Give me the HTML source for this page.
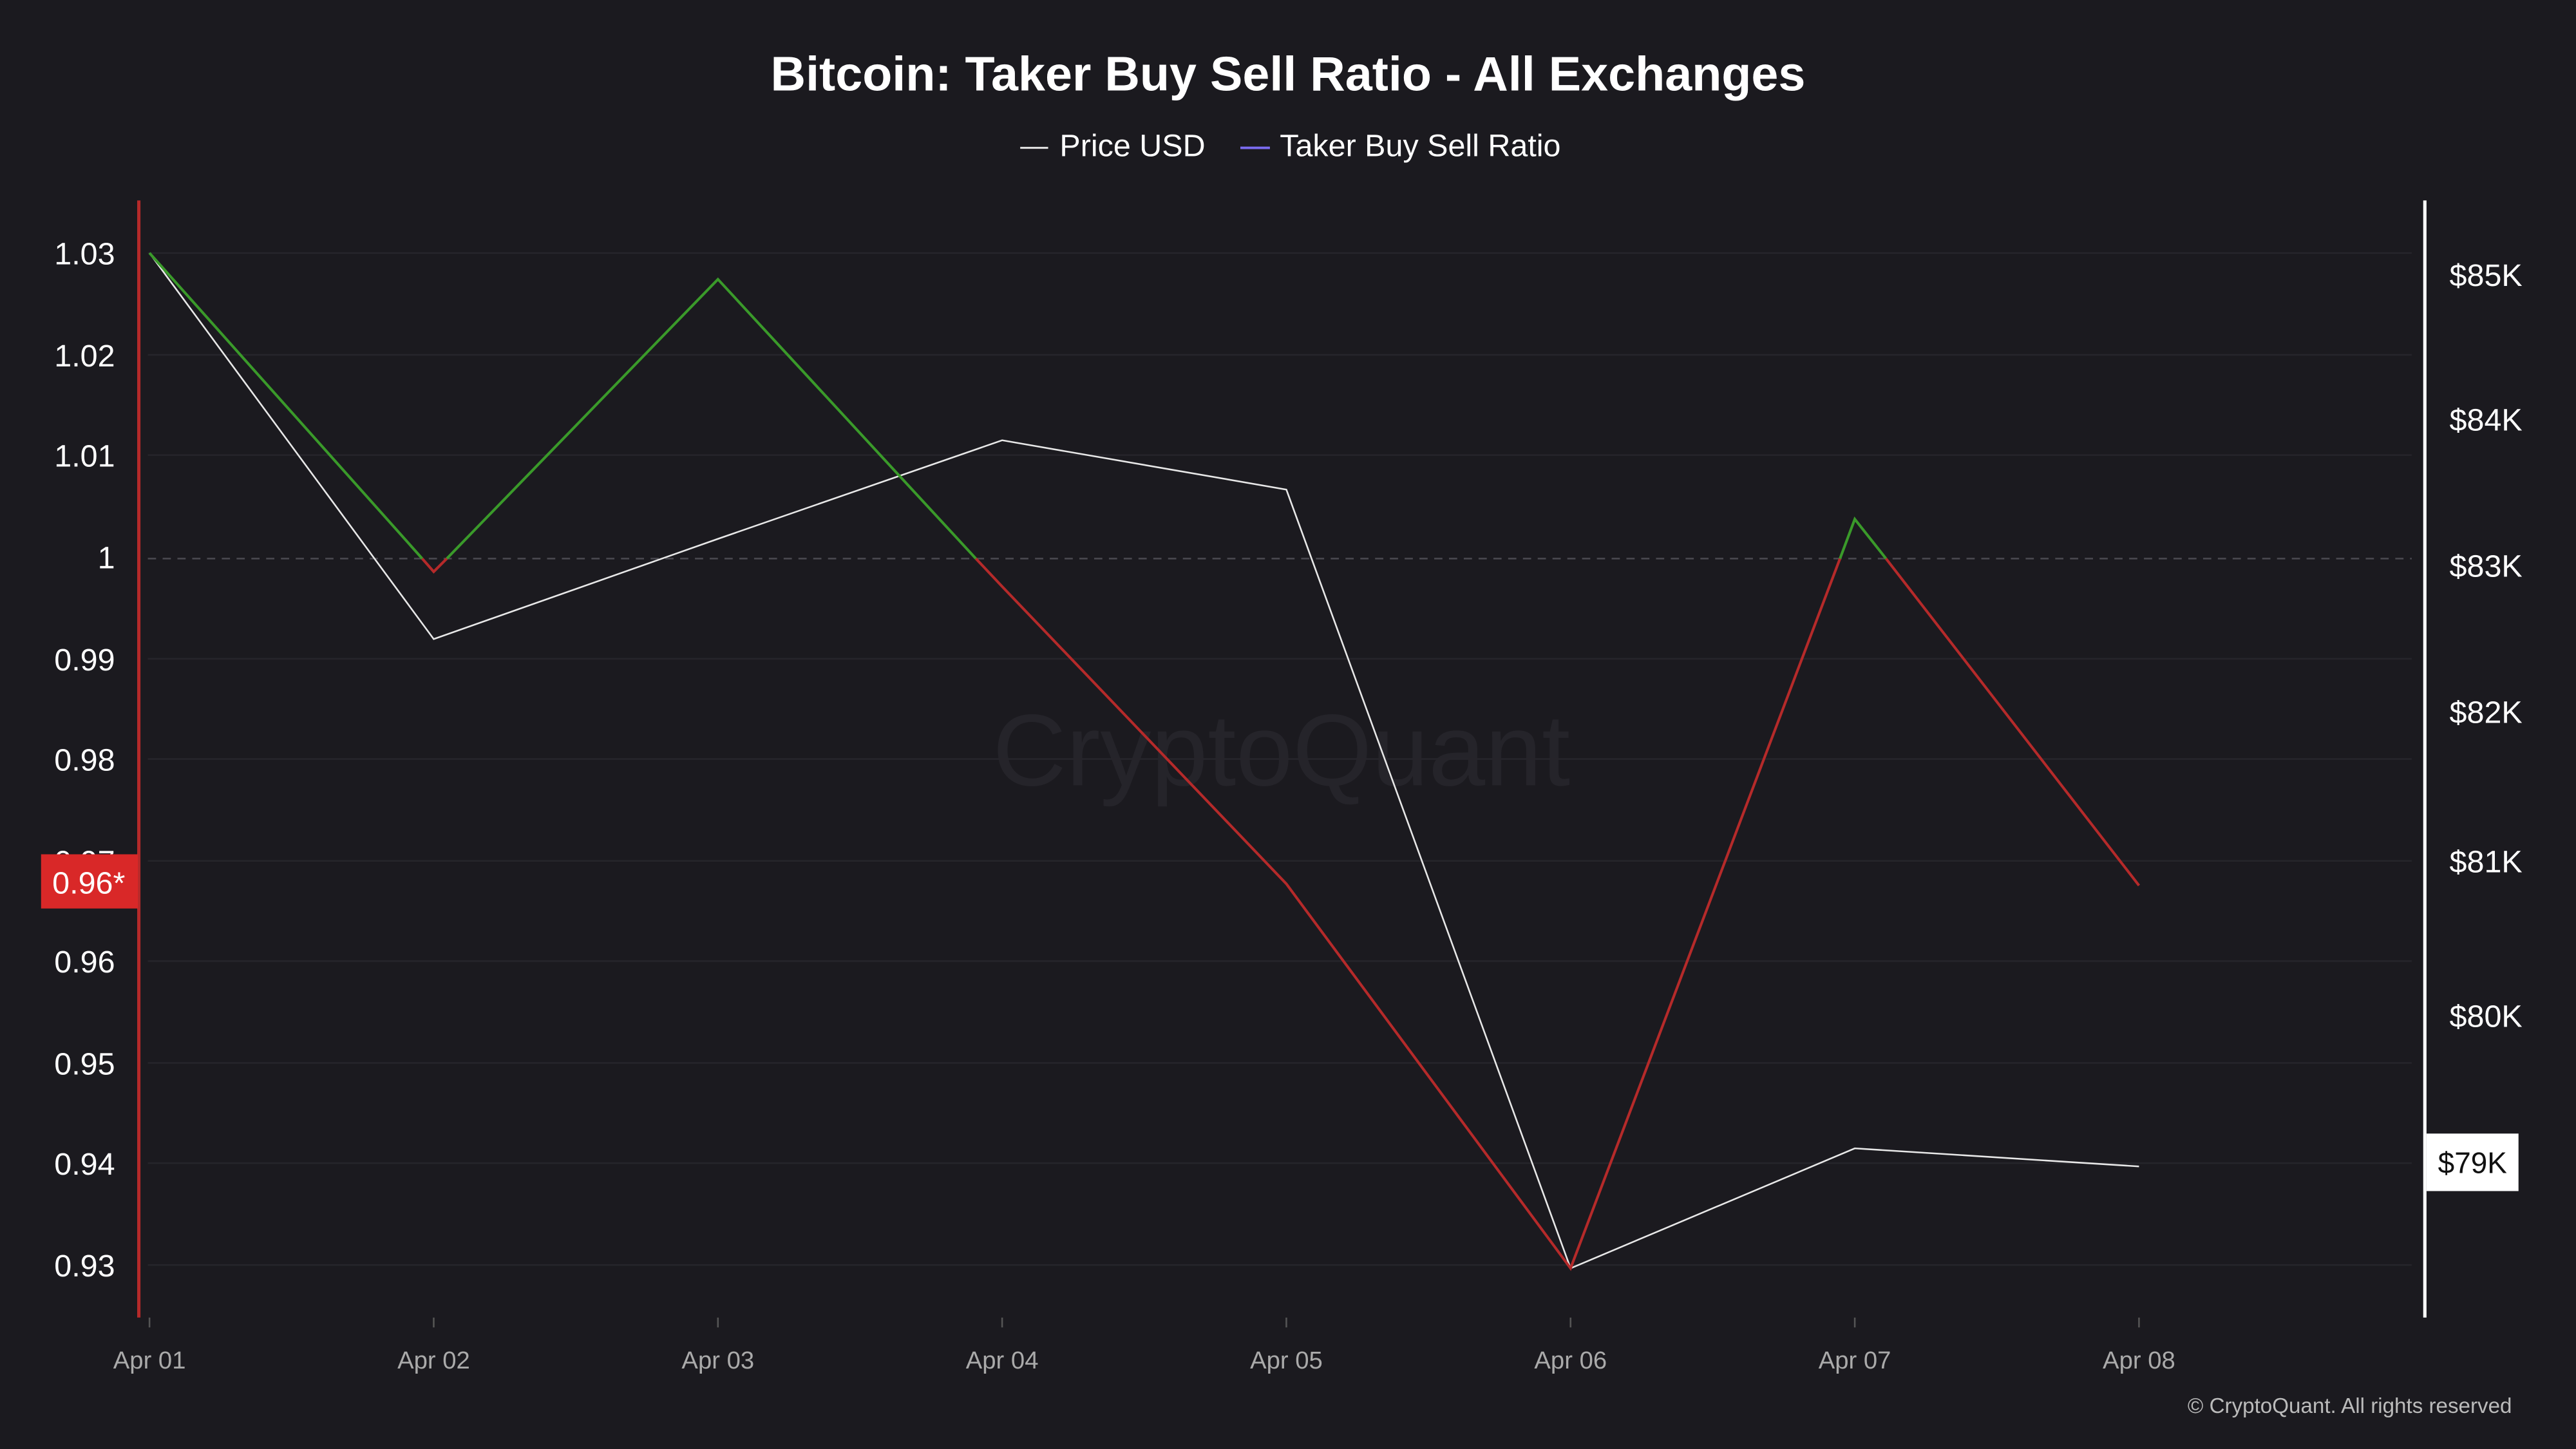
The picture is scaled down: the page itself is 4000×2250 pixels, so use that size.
<!DOCTYPE html>
<html><head><meta charset="utf-8"><style>
html,body{margin:0;padding:0;background:#1b1a1f;}
svg{display:block;}
text{font-family:"Liberation Sans",sans-serif;}
</style></head><body>
<svg width="4000" height="2250" viewBox="0 0 1568 882" preserveAspectRatio="none" xmlns="http://www.w3.org/2000/svg">
<rect width="1568" height="882" fill="#1b1a1f"/>
<text x="784" y="55" text-anchor="middle" fill="#fff" font-size="29.6" font-weight="bold">Bitcoin: Taker Buy Sell Ratio - All Exchanges</text>
<line x1="621" y1="90" x2="638" y2="90" stroke="#ddd" stroke-width="1.2"/>
<text x="645" y="95" fill="#fff" font-size="19">Price USD</text>
<line x1="755" y1="90" x2="773" y2="90" stroke="#7b6cf0" stroke-width="1.5"/>
<text x="779" y="95" fill="#fff" font-size="19">Taker Buy Sell Ratio</text>
<text x="780" y="478" text-anchor="middle" fill="#25242a" font-size="62">CryptoQuant</text>
<g stroke="#26252b" stroke-width="1">
<line x1="90" y1="154" x2="1468" y2="154"/><line x1="90" y1="216" x2="1468" y2="216"/>
<line x1="90" y1="277" x2="1468" y2="277"/><line x1="90" y1="401" x2="1468" y2="401"/>
<line x1="90" y1="462" x2="1468" y2="462"/><line x1="90" y1="524" x2="1468" y2="524"/>
<line x1="90" y1="585" x2="1468" y2="585"/><line x1="90" y1="647" x2="1468" y2="647"/>
<line x1="90" y1="708" x2="1468" y2="708"/><line x1="90" y1="770" x2="1468" y2="770"/>
</g>
<line x1="90" y1="340" x2="1468" y2="340" stroke="#4a4950" stroke-dasharray="5,4"/>
<line x1="84.5" y1="122" x2="84.5" y2="802" stroke="#b52a2a" stroke-width="2"/>
<line x1="1476" y1="122" x2="1476" y2="802" stroke="#fff" stroke-width="2"/>
<g fill="#fff" font-size="19" text-anchor="end">
<text x="70" y="161">1.03</text><text x="70" y="223">1.02</text><text x="70" y="284">1.01</text>
<text x="70" y="346">1</text><text x="70" y="408">0.99</text><text x="70" y="469">0.98</text>
<text x="70" y="531">0.97</text><text x="70" y="592">0.96</text><text x="70" y="654">0.95</text>
<text x="70" y="715">0.94</text><text x="70" y="777">0.93</text>
</g>
<g fill="#fff" font-size="19">
<text x="1491" y="174">$85K</text><text x="1491" y="262">$84K</text><text x="1491" y="351">$83K</text>
<text x="1491" y="440">$82K</text><text x="1491" y="531">$81K</text><text x="1491" y="625">$80K</text>
</g>
<g fill="#aaa" font-size="15" text-anchor="middle">
<text x="91" y="833">Apr 01</text><text x="264" y="833">Apr 02</text><text x="437" y="833">Apr 03</text>
<text x="610" y="833">Apr 04</text><text x="783" y="833">Apr 05</text><text x="956" y="833">Apr 06</text>
<text x="1129" y="833">Apr 07</text><text x="1302" y="833">Apr 08</text>
</g>
<g stroke="#555" stroke-width="1">
<line x1="91" y1="802" x2="91" y2="808"/><line x1="264" y1="802" x2="264" y2="808"/><line x1="437" y1="802" x2="437" y2="808"/>
<line x1="610" y1="802" x2="610" y2="808"/><line x1="783" y1="802" x2="783" y2="808"/><line x1="956" y1="802" x2="956" y2="808"/>
<line x1="1129" y1="802" x2="1129" y2="808"/><line x1="1302" y1="802" x2="1302" y2="808"/>
</g>
<polyline fill="none" stroke="#e8e8e8" stroke-width="1" points="91,154 264,389 437,328 610,268 783,298 956,772 1129,699 1302,710"/>
<g fill="none" stroke-width="1.6">
<polyline stroke="#3a9a2a" points="91,154 257,340"/>
<polyline stroke="#b52a2a" points="257,340 264,348 272,340"/>
<polyline stroke="#3a9a2a" points="272,340 437,170 594,340"/>
<polyline stroke="#b52a2a" points="594,340 610,357 783,538 956,772 1120,340"/>
<polyline stroke="#3a9a2a" points="1120,340 1129,316 1148,340"/>
<polyline stroke="#b52a2a" points="1148,340 1302,539"/>
</g>
<rect x="25" y="520" width="59" height="33" fill="#d92828"/>
<text x="54" y="544" text-anchor="middle" fill="#fff" font-size="19">0.96*</text>
<rect x="1477" y="690" width="56" height="35" fill="#fff"/>
<text x="1505" y="714" text-anchor="middle" fill="#111" font-size="18">$79K</text>
<text x="1529" y="860" text-anchor="end" fill="#bbb" font-size="13">© CryptoQuant. All rights reserved</text>
</svg>
</body></html>
